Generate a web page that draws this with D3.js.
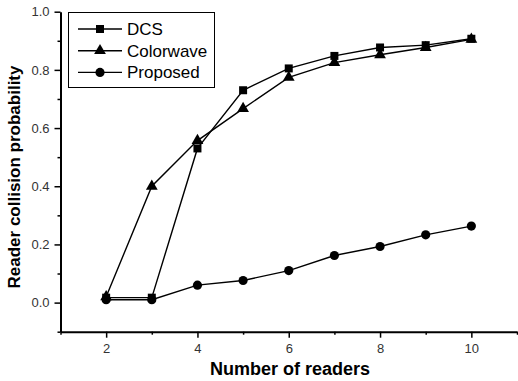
<!DOCTYPE html>
<html>
<head>
<meta charset="utf-8">
<script src="https://cdn.jsdelivr.net/npm/d3@7/dist/d3.min.js"></script>
<style>
  html, body { margin: 0; padding: 0; background: #fff; }
  svg { display: block; }
</style>
</head>
<body>
<svg id="chart" width="518" height="381"></svg>
<script>
const readers = [2, 3, 4, 5, 6, 7, 8, 9, 10];
const dcs = [0.017, 0.017, 0.53, 0.73, 0.805, 0.848, 0.877, 0.885, 0.907];
const colorwave = [0.02, 0.40, 0.557, 0.667, 0.774, 0.825, 0.852, 0.877, 0.905];
const proposed = [0.01, 0.01, 0.06, 0.076, 0.11, 0.162, 0.193, 0.233, 0.263];
const seriesNames = ["DCS", "Colorwave", "Proposed"];
const xMajorTicks = [2, 4, 6, 8, 10];
const xMinorTicks = [1, 3, 5, 7, 9, 11];
const yMajorTicks = [0.0, 0.2, 0.4, 0.6, 0.8, 1.0];
const yMinorTicks = [-0.1, 0.1, 0.3, 0.5, 0.7, 0.9];

const svg = d3.select("#chart");
const font = "Arial, 'Liberation Sans', sans-serif";

const x = d3.scaleLinear().domain([1, 11]).range([60.5, 517]);
const y = d3.scaleLinear().domain([-0.1, 1.0]).range([331.7, 11.7]);

// axes
const gx = svg.append("g").attr("transform", `translate(0,${y(-0.1)})`);
gx.call(d3.axisBottom(x).tickValues(xMajorTicks).tickSize(6).tickSizeOuter(0).tickPadding(6).tickFormat(d3.format("d")));
gx.append("g").call(d3.axisBottom(x).tickValues(xMinorTicks).tickSize(3).tickSizeOuter(0).tickFormat(""))
  .select(".domain").remove();

const gy = svg.append("g").attr("transform", `translate(${x(1)},0)`);
gy.call(d3.axisLeft(y).tickValues(yMajorTicks).tickSize(6).tickSizeOuter(0).tickPadding(5).tickFormat(d3.format(".1f")));
gy.append("g").call(d3.axisLeft(y).tickValues(yMinorTicks).tickSize(3).tickSizeOuter(0).tickFormat(""))
  .select(".domain").remove();

svg.selectAll(".domain").attr("stroke", "#000").attr("stroke-width", 2);
svg.selectAll(".tick line").attr("stroke", "#000").attr("stroke-width", 1.5);
svg.selectAll(".tick text").attr("font-family", font).attr("font-size", 13).attr("fill", "#333");

// titles
svg.append("text")
  .attr("x", 290).attr("y", 375)
  .attr("text-anchor", "middle")
  .attr("font-family", font).attr("font-weight", "bold").attr("font-size", 18)
  .text("Number of readers");
svg.append("text")
  .attr("transform", `translate(20,177) rotate(-90)`)
  .attr("text-anchor", "middle")
  .attr("font-family", font).attr("font-weight", "bold").attr("font-size", 17)
  .text("Reader collision probability");

// series
const series = [
  { name: seriesNames[0], values: dcs, symbol: d3.symbolSquare, size: 64 },
  { name: seriesNames[1], values: colorwave, symbol: d3.symbolTriangle, size: 60 },
  { name: seriesNames[2], values: proposed, symbol: d3.symbolCircle, size: 66 }
];

const line = d3.line().x(d => x(d[0])).y(d => y(d[1]));

series.forEach(s => {
  const pts = readers.map((r, i) => [r, s.values[i]]);
  svg.append("path")
    .attr("d", line(pts))
    .attr("fill", "none").attr("stroke", "#000").attr("stroke-width", 1.4);
  svg.append("g").selectAll("path").data(pts).join("path")
    .attr("transform", d => `translate(${x(d[0])},${y(d[1])})`)
    .attr("d", d3.symbol().type(s.symbol).size(s.size))
    .attr("fill", "#000");
});

// legend
const lg = svg.append("g");
lg.append("rect")
  .attr("x", 68.5).attr("y", 12.5).attr("width", 146).attr("height", 75)
  .attr("fill", "#fff").attr("stroke", "#000").attr("stroke-width", 1);
series.forEach((s, i) => {
  const ly = 29 + i * 21.7;
  lg.append("line").attr("x1", 78).attr("x2", 122).attr("y1", ly).attr("y2", ly)
    .attr("stroke", "#000").attr("stroke-width", 1.4);
  lg.append("path").attr("transform", `translate(100,${ly})`)
    .attr("d", d3.symbol().type(s.symbol).size(s.size)).attr("fill", "#000");
  lg.append("text").attr("x", 127).attr("y", ly + 6)
    .attr("font-family", font).attr("font-size", 17).attr("fill", "#000")
    .text(s.name);
});
</script>
</body>
</html>
